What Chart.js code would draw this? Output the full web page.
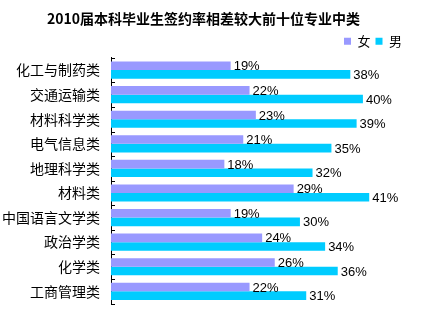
<!DOCTYPE html>
<html>
<head>
<meta charset="utf-8">
<script src="https://cdn.jsdelivr.net/npm/chart.js@4"></script>
<style>
  html, body { margin: 0; padding: 0; background: #fff; }
  #wrap { width: 421px; height: 323px; }
</style>
</head>
<body>
<div id="wrap"><canvas id="gapChart" width="421" height="323"></canvas></div>
<script>
// ===== data =====
const majors = ['化工与制药类', '交通运输类', '材料科学类', '电气信息类', '地理科学类',
  '材料类', '中国语言文学类', '政治学类', '化学类', '工商管理类'];
const female = [19, 22, 23, 21, 18, 29, 19, 24, 26, 22];
const male = [38, 40, 39, 35, 32, 41, 30, 34, 36, 31];
const seriesNames = ['女', '男'];

// value labels at bar ends
const barLabels = {
  id: 'barLabels',
  afterDatasetsDraw(chart) {
    const c = chart.ctx;
    c.save();
    c.font = '13px "Liberation Sans", Arial, sans-serif';
    c.fillStyle = '#000';
    c.textAlign = 'left';
    c.textBaseline = 'middle';
    chart.data.datasets.forEach((ds, i) => {
      chart.getDatasetMeta(i).data.forEach((bar, j) => {
        c.fillText(ds.data[j] + '%', bar.x + 3, bar.y + 1);
      });
    });
    c.restore();
  }
};

// short inward tick marks between categories
const innerTicks = {
  id: 'innerTicks',
  afterDraw(chart) {
    const y = chart.scales.y;
    const left = chart.chartArea.left;
    const c = chart.ctx;
    c.save();
    c.strokeStyle = '#000';
    c.lineWidth = 1;
    c.beginPath();
    for (let i = 0; i <= majors.length; i++) {
      const py = Math.round(y.getPixelForValue(i - 0.5)) + 0.5;
      c.moveTo(left, py);
      c.lineTo(left + 4, py);
    }
    c.stroke();
    c.restore();
  }
};

const ctx = document.getElementById('gapChart').getContext('2d');
const gapChart = new Chart(ctx, {
  type: 'bar',
  data: {
    labels: majors,
    datasets: [
      { label: seriesNames[0], data: female, backgroundColor: '#9999FF' },
      { label: seriesNames[1], data: male, backgroundColor: '#00CCFF' }
    ]
  },
  options: {
    indexAxis: 'y',
    responsive: false,
    animation: false,
    categoryPercentage: 0.7,
    barPercentage: 1,
    layout: { padding: { top: 2, right: 14, bottom: 10, left: 0 } },
    plugins: {
      title: {
        display: true,
        text: '2010届本科毕业生签约率相差较大前十位专业中类',
        color: '#000',
        font: { family: '"Noto Sans CJK SC", sans-serif', size: 14, weight: 'bold' },
        padding: { top: 8, bottom: 3 }
      },
      legend: {
        align: 'end',
        labels: {
          color: '#000',
          boxWidth: 7,
          boxHeight: 7,
          padding: 5,
          font: { family: '"Noto Sans CJK SC", sans-serif', size: 13 }
        }
      },
      tooltip: { enabled: false }
    },
    scales: {
      x: { display: false, min: 0, max: 47 },
      y: {
        grid: { display: false, drawTicks: false },
        border: { color: '#000' },
        ticks: {
          color: '#000',
          padding: 11,
          font: { family: '"Noto Sans CJK SC", sans-serif', size: 14 }
        },
        afterFit(scale) { scale.width = 111; }
      }
    }
  },
  plugins: [barLabels, innerTicks]
});
</script>
</body>
</html>
